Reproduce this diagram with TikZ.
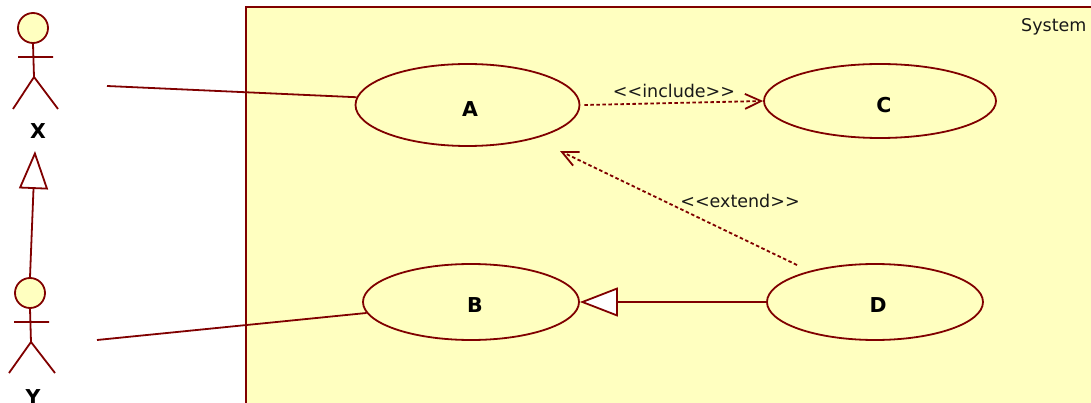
\documentclass[tikz,border=0pt]{standalone}
\usepackage{fontspec}
\setmainfont{DejaVu Sans}
\usetikzlibrary{shapes.geometric,arrows.meta}
\definecolor{umlred}{HTML}{800000}
\definecolor{umlfill}{HTML}{FFFFC0}
\tikzset{
  usecase/.style={ellipse,draw=umlred,line width=1.8pt,fill=umlfill,inner sep=0pt},
  uclabel/.style={font=\fontsize{20.5}{24}\selectfont\bfseries,inner sep=0pt},
  conn/.style={draw=umlred,line width=1.8pt},
  dep/.style={conn,dash pattern=on 3.5pt off 2.5pt,-{Straight Barb[length=16pt,width=15pt,line width=1.8pt]}},
  gen/.style={conn,-{Triangle[open,length=38pt,width=29pt,fill=white,line width=1.8pt]}},
  stereo/.style={font=\fontsize{17.5}{20}\selectfont,text=black!90},
  actorlabel/.style={font=\fontsize{20.5}{24}\selectfont\bfseries},
  head/.style={circle,draw=umlred,fill=umlfill,line width=1.8pt,minimum size=30pt,inner sep=0pt},
}
\begin{document}
\begin{tikzpicture}[x=1pt,y=-1pt]
\useasboundingbox (0,0) rectangle (1091,403);
% system boundary
\path[draw=umlred,line width=2pt,fill=umlfill] (246,420) -- (246,7) -- (1100,7) -- (1100,420) -- cycle;
\node[stereo,anchor=east] (sys) at (1090,27) {System};
% actor X
\node[head] (hx) at (33,28) {};
\coordinate (xhip) at (34,77);
\coordinate (xal) at (18,57);
\coordinate (xar) at (53,57);
\coordinate (xll) at (13,109);
\coordinate (xlr) at (58,109);
\draw[conn] (hx.south) -- (xhip) (xal) -- (xar) (xll) -- (xhip) -- (xlr);
\node[actorlabel] (lx) at (38,131) {X};
\coordinate (xa) at (107,86);
% actor Y
\node[head] (hy) at (30,293) {};
\coordinate (yhip) at (31,342);
\coordinate (yal) at (14,322);
\coordinate (yar) at (49,322);
\coordinate (yll) at (9,373);
\coordinate (ylr) at (55,373);
\draw[conn] (hy.south) -- (yhip) (yal) -- (yar) (yll) -- (yhip) -- (ylr);
\node[actorlabel] (ly) at (33,397) {Y};
\coordinate (ya) at (97,340);
\coordinate (xgen) at (35,151);
% generalisation Y -> X
\draw[gen] (hy.north) -- (xgen);
% use cases
\node[usecase,minimum width=224pt,minimum height=82pt] (A) at (467.5,105) {};
\node[usecase,minimum width=232pt,minimum height=74pt] (C) at (880,101) {};
\node[usecase,minimum width=216pt,minimum height=76pt] (B) at (471,302) {};
\node[usecase,minimum width=216pt,minimum height=76pt] (D) at (875,302) {};
\node[uclabel] (lA) at (470,109) {A};
\node[uclabel] (lC) at (884,105) {C};
\node[uclabel] (lB) at (475,305) {B};
\node[uclabel] (lD) at (878,305) {D};
% associations
\draw[conn] (xa) -- (A.176);
\draw[conn] (ya) -- (B.186);
% include
\draw[dep] ([xshift=4pt]A.east) -- (C.west);
\node[stereo] (inc) at (674,91) {{<}{<}include{>}{>}};
% extend
\coordinate (ds) at (797,265);
\coordinate (at) at (560,151);
\draw[dep] (ds) -- (at);
\node[stereo] (ext) at (740,201) {{<}{<}extend{>}{>}};
% generalisation D -> B
\draw[gen] (D.west) -- (B.east);
\end{tikzpicture}
\end{document}
